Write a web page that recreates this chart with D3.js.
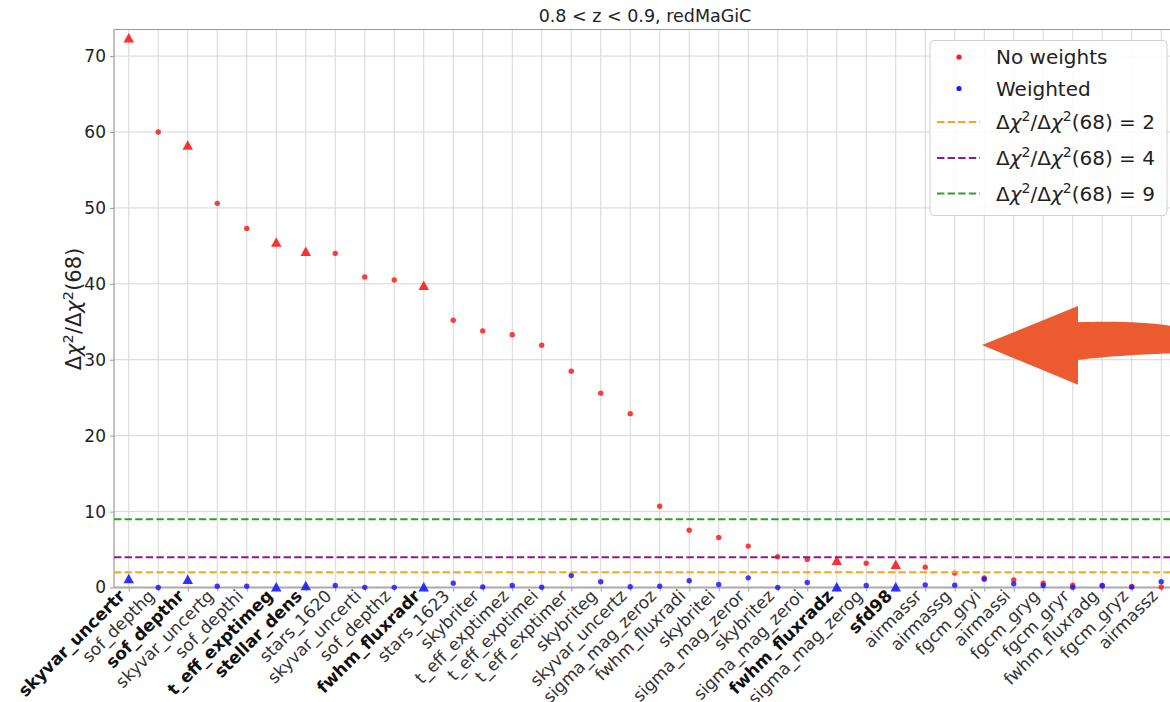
<!DOCTYPE html>
<html>
<head>
<meta charset="utf-8">
<script src="https://cdn.jsdelivr.net/npm/d3@7"></script>
<style>
  html, body { margin: 0; padding: 0; background: #fff; overflow: hidden; }
  svg { display: block; font-family: "DejaVu Sans", sans-serif; }
</style>
</head>
<body>
<svg id="chart" width="1170" height="702"></svg>
<script>
// Survey property maps, ranked by their Δχ² significance
const categories = [
  "skyvar_uncertr", "sof_depthg", "sof_depthr", "skyvar_uncertg", "sof_depthi",
  "t_eff_exptimeg", "stellar_dens", "stars_1620", "skyvar_uncerti", "sof_depthz",
  "fwhm_fluxradr", "stars_1623", "skybriter", "t_eff_exptimez", "t_eff_exptimei",
  "t_eff_exptimer", "skybriteg", "skyvar_uncertz", "sigma_mag_zeroz", "fwhm_fluxradi",
  "skybritei", "sigma_mag_zeror", "skybritez", "sigma_mag_zeroi", "fwhm_fluxradz",
  "sigma_mag_zerog", "sfd98", "airmassr", "airmassg", "fgcm_gryi",
  "airmassi", "fgcm_gryg", "fgcm_gryr", "fwhm_fluxradg", "fgcm_gryz", "airmassz"
];

// Maps selected for the weighting (bold labels, triangle markers)
const selectedMaps = [
  "skyvar_uncertr", "sof_depthr", "t_eff_exptimeg", "stellar_dens",
  "fwhm_fluxradr", "fwhm_fluxradz", "sfd98"
];

// Δχ²/Δχ²(68) before weighting
const noWeights = [
  72.4, 60.0, 58.3, 50.6, 47.3,
  45.5, 44.3, 44.0, 40.9, 40.5,
  39.8, 35.2, 33.8, 33.3, 31.9,
  28.5, 25.6, 22.9, 10.7, 7.55,
  6.6, 5.45, 4.05, 3.7, 3.6,
  3.2, 3.05, 2.68, 1.9, 1.25,
  1.0, 0.55, 0.3, 0.2, 0.13, 0.05
];

// Δχ²/Δχ²(68) after weighting
const weighted = [
  1.2, 0.0, 1.1, 0.18, 0.18,
  0.1, 0.27, 0.27, 0.02, 0.02,
  0.1, 0.57, 0.08, 0.27, 0.04,
  1.58, 0.75, 0.09, 0.18, 0.88,
  0.4, 1.27, 0.0, 0.66, 0.1,
  0.26, 0.1, 0.35, 0.31, 1.1,
  0.48, 0.26, 0.04, 0.26, 0.05, 0.75
];

// Reference significance thresholds
const thresholds = [2, 4, 9];
const thresholdColors = ["#ffa21f", "#8b1a8b", "#2ca02c"];

const yTicks = [0, 10, 20, 30, 40, 50, 60, 70];
const titleText = "0.8 < z < 0.9, redMaGiC";

const svg = d3.select("#chart");
const plot = { left: 114, right: 1176, top: 29.5, bottom: 587.5 };

const x = d3.scaleLinear().domain([-0.5, categories.length - 0.5]).range([plot.left, plot.right]);
const y = d3.scaleLinear().domain([0, 73.5]).range([plot.bottom, plot.top]);

const idx = d3.range(categories.length);

// Grid
const grid = svg.append("g");
grid.selectAll("line.gx").data(idx).join("line")
  .attr("x1", d => x(d)).attr("x2", d => x(d))
  .attr("y1", plot.top).attr("y2", plot.bottom)
  .attr("stroke", "#d6d6d6").attr("stroke-width", 1);
grid.selectAll("line.gy").data(yTicks).join("line")
  .attr("x1", plot.left).attr("x2", plot.right)
  .attr("y1", d => y(d)).attr("y2", d => y(d))
  .attr("stroke", "#d6d6d6").attr("stroke-width", 1);

// Axes
const yAxis = d3.axisLeft(y).tickValues(yTicks).tickSize(4).tickPadding(4).tickFormat(d3.format("d"));
const gy = svg.append("g").attr("transform", `translate(${plot.left},0)`).call(yAxis);
gy.select(".domain").remove();
gy.selectAll(".tick line").attr("stroke", "#999");
gy.selectAll(".tick text").attr("font-size", 17).attr("fill", "#222")
  .attr("font-family", "DejaVu Sans");

const xAxis = d3.axisBottom(x).tickValues(idx).tickSize(4).tickFormat("");
const gx = svg.append("g").attr("transform", `translate(0,${plot.bottom})`).call(xAxis);
gx.select(".domain").remove();
gx.selectAll(".tick line").attr("stroke", "#999");

// Rotated category labels
svg.append("g").selectAll("text").data(idx).join("text")
  .attr("transform", d => `translate(${x(d) - 2.5},597) rotate(-45)`)
  .attr("text-anchor", "end")
  .attr("font-size", 17)
  .attr("font-weight", d => selectedMaps.includes(categories[d]) ? "bold" : "normal")
  .attr("fill", d => selectedMaps.includes(categories[d]) ? "#111" : "#333")
  .text(d => categories[d]);

// Spines
svg.append("line").attr("x1", plot.left).attr("x2", plot.left)
  .attr("y1", plot.top).attr("y2", plot.bottom).attr("stroke", "#999").attr("stroke-width", 1.2);
svg.append("line").attr("x1", plot.left).attr("x2", plot.right)
  .attr("y1", plot.top).attr("y2", plot.top).attr("stroke", "#999").attr("stroke-width", 1.2);
svg.append("line").attr("x1", plot.left).attr("x2", plot.right)
  .attr("y1", plot.bottom).attr("y2", plot.bottom).attr("stroke", "#aaa").attr("stroke-width", 2.2);

// Markers: triangles for selected maps, dots otherwise
const triPath = (w, h) => `M0,${-h / 2}L${w / 2},${h / 2}L${-w / 2},${h / 2}Z`;
function drawSeries(values, color) {
  const g = svg.append("g");
  g.selectAll("circle").data(idx.filter(i => !selectedMaps.includes(categories[i]))).join("circle")
    .attr("cx", i => x(i)).attr("cy", i => y(values[i])).attr("r", 2.7)
    .attr("fill", color).attr("fill-opacity", 0.85);
  g.selectAll("path").data(idx.filter(i => selectedMaps.includes(categories[i]))).join("path")
    .attr("transform", i => `translate(${x(i)},${y(values[i])})`)
    .attr("d", triPath(10.5, 9.5))
    .attr("fill", color).attr("fill-opacity", 0.9);
}
drawSeries(noWeights, "#ff1a1a");
drawSeries(weighted, "#1a1aff");

// Threshold lines
svg.append("g").selectAll("line").data(thresholds).join("line")
  .attr("x1", plot.left).attr("x2", plot.right)
  .attr("y1", d => y(d)).attr("y2", d => y(d))
  .attr("stroke", (d, i) => thresholdColors[i]).attr("stroke-width", 2)
  .attr("stroke-dasharray", "7.4,3.2");

// Title and y label
svg.append("text").attr("x", (plot.left + plot.right) / 2).attr("y", 22)
  .attr("text-anchor", "middle").attr("font-size", 17.5).attr("fill", "#222").text(titleText);

function mathLabel(sel, tail) {
  sel.append("tspan").text("Δ");
  sel.append("tspan").attr("font-style", "italic").text("χ");
  sel.append("tspan").attr("font-size", "0.7em").attr("dy", "-0.55em").text("2");
  sel.append("tspan").attr("dy", "0.385em").text("/Δ");
  sel.append("tspan").attr("font-style", "italic").text("χ");
  sel.append("tspan").attr("font-size", "0.7em").attr("dy", "-0.55em").text("2");
  sel.append("tspan").attr("dy", "0.385em").text(tail);
}
const ylab = svg.append("text")
  .attr("transform", "translate(81,309) rotate(-90)")
  .attr("text-anchor", "middle").attr("font-size", 21).attr("fill", "#222");
mathLabel(ylab, "(68)");

// Legend
const lg = svg.append("g").attr("transform", "translate(930,40.5)");
lg.append("rect").attr("width", 237).attr("height", 175).attr("rx", 4)
  .attr("fill", "#fff").attr("fill-opacity", 0.85).attr("stroke", "#d0d0d0");
const rowsY = [16.5, 48, 81.5, 117.5, 153];
lg.append("circle").attr("cx", 29).attr("cy", rowsY[0]).attr("r", 2.6).attr("fill", "#ff1a1a");
lg.append("circle").attr("cx", 29).attr("cy", rowsY[1]).attr("r", 2.6).attr("fill", "#1a1aff");
lg.append("text").attr("x", 66).attr("y", rowsY[0] + 7).attr("font-size", 20).attr("fill", "#222").text("No weights");
lg.append("text").attr("x", 66).attr("y", rowsY[1] + 7).attr("font-size", 20).attr("fill", "#222").text("Weighted");
thresholds.forEach((t, i) => {
  const ry = rowsY[i + 2];
  lg.append("line").attr("x1", 7).attr("x2", 50).attr("y1", ry).attr("y2", ry)
    .attr("stroke", thresholdColors[i]).attr("stroke-width", 2).attr("stroke-dasharray", "7.4,3.2");
  const tx = lg.append("text").attr("x", 66).attr("y", ry + 7).attr("font-size", 20).attr("fill", "#222");
  mathLabel(tx, "(68) = " + t);
});

// Callout arrow pointing at the threshold region
svg.append("path")
  .attr("d", "M982,345 L1078,306 L1078,322.3 C1110,321 1150,322 1172,326 L1172,353.5 C1150,354 1110,356 1078,360 L1078,384.7 Z")
  .attr("fill", "#ec5b30");
</script>
</body>
</html>
